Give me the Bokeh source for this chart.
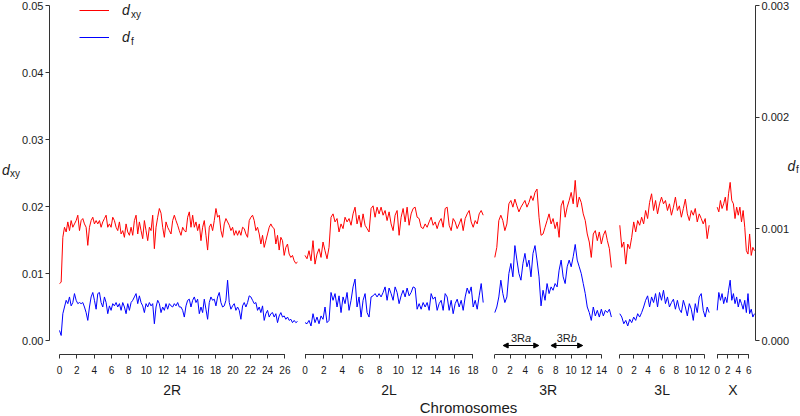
import numpy as np
from bokeh.plotting import figure
from bokeh.models import (Range1d, LinearAxis, FixedTicker, PrintfTickFormatter,
                          Legend, LegendItem, Label, Arrow, NormalHead)
from bokeh.embed import file_html
from bokeh.resources import INLINE

# ---------------- data ----------------
arm_names = ["2R", "2L", "3R", "3L", "X"]

ticks_2R = [0, 2, 4, 6, 8, 10, 12, 14, 16, 18, 20, 22, 24, 26]
ticks_2L = [0, 2, 4, 6, 8, 10, 12, 14, 16, 18]
ticks_3R = [0, 2, 4, 6, 8, 10, 12, 14]
ticks_3L = [0, 2, 4, 6, 8, 10, 12]
ticks_X = [0, 2, 4, 6]

# extent of the windows along each arm (arm axis units)
span_2R = 27.45
span_2L = 19.1
span_3R = 15.3
span_3L = 12.66
span_X = 7.06

# d_xy in units of 0.001
dxy_2R = [8.5, 8.7, 15.4, 16.9, 16.2, 17.7, 16.4, 17.9, 16.9, 17.4, 17.9, 18.7, 16.4, 17.9, 18.2, 17.4,
          16.9, 14.2, 16.9, 17.9, 18.4, 17.4, 17.9, 17.4, 17.9, 16.9, 17.7, 18.2, 18.7, 16.9, 17.4, 16.9,
          18.4, 17.9, 16.9, 16.4, 17.7, 15.9, 16.4, 15.4, 17.4, 16.2, 15.7, 16.9, 15.7, 17.9, 18.7, 15.9,
          17.7, 16.4, 15.2, 17.9, 16.4, 14.9, 16.9, 16.4, 18.7, 13.7, 16.9, 18.4, 19.7, 19.0, 16.9, 15.4,
          17.7, 16.9, 16.4, 15.9, 17.9, 18.7, 17.9, 17.2, 16.4,
          15.7, 16.9, 16.4, 16.2, 18.4, 19.2, 16.9, 18.7, 16.9, 17.7, 16.4, 17.4, 14.9, 16.9, 17.9, 15.7,
          13.5, 16.9, 17.4, 16.4, 17.9, 19.7, 18.4, 18.7, 16.4, 15.4, 17.4, 18.2, 17.7, 17.2, 16.4, 16.9,
          15.7, 16.4, 15.7, 16.4, 15.7, 16.9, 16.7, 15.9, 15.4, 17.9, 18.4, 18.7, 17.9, 16.4, 16.9, 15.9,
          14.4, 15.7, 13.9, 14.9, 15.9, 16.9, 17.4, 16.9, 16.7, 14.4, 15.7, 13.5, 15.4, 14.9, 12.7, 13.9,
          14.4, 12.9, 12.4, 12.7, 11.9, 11.5, 11.7]
dxy_2L = [12.7, 12.2, 13.4, 11.9, 14.9, 11.4, 12.9, 13.7, 12.4, 14.7, 13.4, 12.2, 13.9, 18.4, 18.9, 17.7,
          18.2, 16.2, 17.4, 16.7, 18.4, 17.7, 18.2, 17.2, 18.9, 19.9, 17.4, 18.7, 16.9, 18.9, 17.2, 16.7,
          16.2, 19.7, 20.1, 18.4, 19.9, 18.9, 19.9, 18.7, 19.4, 17.9, 19.2, 17.4, 16.4, 18.7, 19.4, 15.7,
          18.4, 19.7, 17.7, 19.9, 17.2, 18.9, 19.7, 19.9, 18.4, 18.2, 16.9, 16.7, 17.4, 16.9, 17.7, 18.4,
          17.2, 17.7, 16.7, 17.7, 18.2, 16.9, 19.7, 19.9, 17.2, 16.4, 18.2, 17.7, 16.7, 17.4, 18.2, 16.4,
          18.2, 18.9, 19.4, 17.7, 16.9, 17.9, 17.4, 18.9, 19.4, 18.7]
dxy_3R = [12.4, 13.9, 17.9, 18.7, 17.9, 16.4, 17.4, 20.4, 20.9, 19.9, 21.1, 20.1, 19.2, 19.9, 20.4, 20.9,
          19.9, 20.6, 21.6, 20.9, 22.1, 22.6, 18.4, 15.7, 15.9, 16.9, 17.9, 18.9, 17.4, 18.2, 16.7, 17.7,
          15.4, 20.1, 20.9, 18.4, 19.9, 20.9, 22.1, 20.4, 23.9, 19.9, 21.4, 20.6, 18.9, 17.9, 15.9, 14.7,
          12.4, 15.9, 16.4, 14.9, 16.2, 14.4, 15.7, 16.4, 14.9, 13.7, 10.9]
dxy_3L = [17.2, 13.9, 14.7, 11.4, 14.4, 13.7, 15.4, 17.7, 16.2, 17.9, 17.2, 18.4, 17.4, 19.4, 18.2, 20.6,
          21.9, 19.4, 20.9, 18.9, 20.4, 21.4, 20.4, 20.9, 19.4, 20.4, 18.7, 19.9, 21.4, 19.4, 20.1, 18.4,
          19.7, 21.1, 18.9, 17.9, 19.4, 18.7, 19.7, 17.7, 18.9, 18.2, 17.4, 18.2, 15.2, 17.2]
dxy_X = [19.9, 19.2, 20.9, 19.7, 20.4, 21.4, 19.4, 21.9, 23.6, 20.9, 20.4, 18.2, 19.9, 18.7, 19.9, 17.7,
         19.4, 16.9, 13.4, 12.9, 15.9, 12.7, 13.9, 13.4]

# d_f in units of 0.0001
df_2R = [0.9, 0.45, 2.4, 3.0, 3.6, 3.3, 3.9, 3.1, 3.4, 4.2, 3.6, 3.3, 3.4, 3.3, 3.4, 3.0, 2.5, 1.8, 3.0,
         3.9, 4.3, 3.6, 2.8, 4.2, 4.3, 3.4, 3.0, 3.9, 3.4, 2.4, 3.1, 2.7, 3.3, 3.1, 3.4, 3.0, 3.3, 2.7,
         3.4, 3.0, 2.4, 3.3, 2.7, 3.4, 3.6, 3.9, 4.2, 3.3, 4.0, 3.4, 3.1, 2.5, 3.3, 3.0, 3.4, 3.1, 3.3,
         1.5, 3.0, 3.6, 3.3, 2.5, 3.0, 2.7, 3.3, 2.8, 3.3, 3.1, 3.0, 3.3, 3.1, 3.4, 3.0,
         3.0, 2.7, 2.1, 3.1, 3.6, 3.7, 3.0, 3.6, 3.9, 3.4, 3.7, 2.4, 3.0, 2.5, 3.7, 2.8, 1.9, 3.4, 3.9,
         3.6, 3.7, 3.1, 3.9, 4.3, 3.4, 3.0, 3.1, 3.6, 5.4, 3.4, 2.8, 3.1, 3.3, 2.7, 3.0, 2.7, 1.9, 3.1,
         3.4, 3.0, 3.4, 4.0, 3.9, 3.6, 3.3, 3.4, 2.7, 3.0, 2.5, 3.1, 1.8, 2.4, 2.7, 2.1, 2.4, 2.5, 2.1,
         2.4, 1.6, 2.2, 2.5, 2.1, 2.2, 1.9, 2.1, 1.8, 1.9, 1.6, 1.8, 1.6, 1.7]
df_2L = [1.6, 1.5, 1.8, 1.3, 2.4, 1.6, 2.1, 1.5, 2.2, 1.9, 3.0, 1.6, 1.8, 4.3, 3.6, 4.2, 3.0, 4.0, 2.5,
         3.9, 3.3, 4.3, 2.7, 3.6, 4.8, 5.5, 3.0, 3.9, 2.1, 3.6, 4.2, 2.5, 2.1, 3.9, 4.0, 4.2, 3.9, 4.2,
         3.9, 4.3, 4.8, 3.6, 4.7, 4.2, 3.6, 4.8, 4.3, 3.3, 4.0, 4.5, 3.9, 4.7, 4.0, 4.3, 4.8, 4.7, 2.8,
         3.3, 2.8, 3.4, 3.0, 3.4, 2.7, 4.2, 3.7, 3.9, 2.7, 3.3, 3.6, 2.7, 4.2, 3.9, 2.7, 3.6, 2.4, 3.3,
         3.7, 3.0, 3.6, 2.7, 3.9, 4.7, 4.2, 4.8, 3.0, 3.6, 2.8, 4.0, 5.1, 3.4]
df_3R = [2.5, 3.0, 3.9, 5.4, 4.2, 3.4, 3.9, 6.0, 6.9, 5.7, 8.5, 7.2, 6.0, 5.4, 6.9, 7.8, 6.6, 7.2, 5.7,
         7.8, 8.5, 7.2, 5.7, 3.1, 4.5, 3.6, 5.1, 4.2, 4.8, 4.5, 5.1, 4.8, 6.3, 7.2, 5.7, 5.1, 6.6, 7.2,
         6.6, 7.5, 8.6, 7.2, 6.6, 6.0, 5.1, 4.2, 3.0, 2.5, 1.8, 3.0, 2.2, 2.7, 2.1, 2.8, 2.2, 2.7, 2.5,
         2.8, 2.1]
df_3L = [2.4, 2.1, 1.5, 1.8, 1.3, 1.9, 1.6, 2.1, 1.8, 2.4, 2.1, 2.5, 3.0, 3.6, 4.0, 3.0, 3.9, 3.4, 4.2,
         3.0, 4.3, 3.6, 4.5, 3.3, 3.9, 3.0, 3.4, 3.7, 2.8, 3.6, 2.8, 2.5, 3.6, 3.0, 2.2, 3.3, 2.8, 1.8,
         3.3, 2.5, 3.9, 4.2, 2.7, 2.1, 3.0, 2.5]
df_X = [2.7, 4.3, 3.6, 4.2, 3.3, 3.9, 3.4, 4.5, 5.4, 3.6, 4.2, 3.3, 3.9, 3.0, 3.7, 3.3, 2.8, 3.6, 2.5,
        4.2, 2.4, 2.8, 2.1, 2.4]

DXY_UNIT = 1e-3
DF_UNIT = 1e-4

# inversions on 3R (arm units)
inv_names = ["a", "b"]
inv_start = [1.1, 7.37]
inv_end = [5.77, 11.53]

dxy_ticks = [0.0, 0.01, 0.02, 0.03, 0.04, 0.05]
df_ticks = [0.0, 0.001, 0.002, 0.003]

# ---------------- layout (x coordinate = page pixel) ----------------
ticks = {"2R": ticks_2R, "2L": ticks_2L, "3R": ticks_3R, "3L": ticks_3L, "X": ticks_X}
spans = {"2R": span_2R, "2L": span_2L, "3R": span_3R, "3L": span_3L, "X": span_X}
dxy = {"2R": dxy_2R, "2L": dxy_2L, "3R": dxy_3R, "3L": dxy_3L, "X": dxy_X}
dfv = {"2R": df_2R, "2L": df_2L, "3R": df_3R, "3L": df_3L, "X": df_X}

ARM_ORIGIN = {"2R": 59.0, "2L": 304.5, "3R": 494.3, "3L": 619.3, "X": 716.7}
ARM_SCALE = {"2R": 8.67, "2L": 9.33, "3R": 7.62, "3L": 7.06, "X": 5.28}

def gx(arm, pos):
    return ARM_ORIGIN[arm] + np.asarray(pos, dtype=float) * ARM_SCALE[arm]

W, H = 800, 416
X_LEFT, X_RIGHT = 49, 755            # page x of left / right axis
Y_TOP, Y_ZERO, Y_AXIS = 5, 340, 354  # page y of top tick, zero and the x axis
DXY_MAX, DF_MAX = 0.05, 0.003
px_dxy = DXY_MAX / (Y_ZERO - Y_TOP)
px_df = DF_MAX / (Y_ZERO - Y_TOP)

def ydxy(page_y):
    return (Y_ZERO - page_y) * px_dxy

def ydf(page_y):
    return (Y_ZERO - page_y) * px_df

FONT = "Liberation Sans"
AX = "#333333"
TXT = "#1a1a1a"

p = figure(width=W, height=H, output_backend="svg", toolbar_location=None,
           x_range=Range1d(0, W), y_range=Range1d(ydxy(H), ydxy(0)),
           x_axis_type=None, y_axis_type=None,
           min_border_left=0, min_border_right=0, min_border_top=0, min_border_bottom=0)
p.outline_line_color = None
p.background_fill_color = "white"
p.border_fill_color = "white"
p.extra_y_ranges = {"df": Range1d(ydf(H), ydf(0))}

def style_axis(ax, size="11px"):
    ax.axis_line_color = AX
    ax.major_tick_line_color = AX
    ax.minor_tick_line_color = None
    ax.major_tick_in = 0
    ax.major_label_text_font = FONT
    ax.major_label_text_font_size = size
    ax.major_label_text_color = TXT

ax_l = LinearAxis(ticker=FixedTicker(ticks=dxy_ticks), formatter=PrintfTickFormatter(format="%.2f"),
                  bounds=(0, DXY_MAX), fixed_location=X_LEFT)
style_axis(ax_l)
ax_l.major_tick_out = 4
ax_l.major_label_standoff = 2
p.add_layout(ax_l, "left")

ax_r = LinearAxis(y_range_name="df", ticker=FixedTicker(ticks=df_ticks),
                  formatter=PrintfTickFormatter(format="%.3f"), bounds=(0, DF_MAX), fixed_location=X_RIGHT)
style_axis(ax_r)
ax_r.major_tick_out = 4
ax_r.major_label_standoff = 2
p.add_layout(ax_r, "right")

# position ticks of every arm
tick_pos, tick_lab = [], {}
for arm in arm_names:
    for t in ticks[arm]:
        g = round(float(gx(arm, t)), 3)
        tick_pos.append(g)
        tick_lab[g] = str(t)
ax_b = LinearAxis(ticker=FixedTicker(ticks=tick_pos), major_label_overrides=tick_lab,
                  fixed_location=ydxy(Y_AXIS))
style_axis(ax_b, "10px")
ax_b.axis_line_color = None
ax_b.major_tick_out = 4
ax_b.major_label_standoff = 7
p.add_layout(ax_b, "below")

# arm names
mid_pos, mid_lab = [], {}
for arm in arm_names:
    g = round(float(gx(arm, (ticks[arm][0] + ticks[arm][-1]) / 2)), 3)
    mid_pos.append(g)
    mid_lab[g] = arm
ax_n = LinearAxis(ticker=FixedTicker(ticks=mid_pos), major_label_overrides=mid_lab,
                  fixed_location=ydxy(Y_AXIS))
style_axis(ax_n, "14px")
ax_n.axis_line_color = None
ax_n.major_tick_line_color = None
ax_n.major_tick_out = 0
ax_n.major_label_standoff = 27
p.add_layout(ax_n, "below")

# axis line segments for each arm (span of its ticks)
ybase = ydxy(Y_AXIS)
p.segment(x0=[float(gx(a, ticks[a][0])) for a in arm_names], y0=[ybase] * 5,
          x1=[float(gx(a, ticks[a][-1])) for a in arm_names], y1=[ybase] * 5,
          line_color=AX, line_width=1)

red_r, blue_r = None, None
for arm in arm_names:
    v = np.asarray(dxy[arm]) * DXY_UNIT
    xs = gx(arm, np.linspace(0, spans[arm], len(v)))
    r = p.line(xs, v, line_color="red", line_width=1)
    red_r = red_r or r
    w = np.asarray(dfv[arm]) * DF_UNIT
    xs2 = gx(arm, np.linspace(0, spans[arm], len(w)))
    b = p.line(xs2, w, line_color="blue", line_width=1, y_range_name="df")
    blue_r = blue_r or b

# legend
legend = Legend(items=[LegendItem(label="d", renderers=[red_r]), LegendItem(label="d", renderers=[blue_r])],
                location=(79, 370), glyph_width=30, glyph_height=18, label_height=18, label_standoff=13,
                spacing=9, padding=0, margin=0, border_line_color=None, background_fill_alpha=0,
                label_text_font=FONT, label_text_font_style="italic", label_text_font_size="14px",
                label_text_color=TXT)
p.add_layout(legend)

def lab(x, y, text, size="10px", style="normal", align="left", yr="default", baseline="middle"):
    p.add_layout(Label(x=x, y=y, text=text, text_font=FONT, text_font_size=size, text_font_style=style,
                       text_align=align, text_baseline=baseline, text_color=TXT, y_range_name=yr))

lab(130.5, ydxy(13.5), "xy")
lab(130.5, ydxy(40.5), "f")

# axis titles
lab(1.5, ydxy(169), "d", size="14px", style="italic")
lab(9.5, ydxy(173), "xy")
lab(787, ydf(165), "d", size="14px", style="italic", yr="df")
lab(795.5, ydf(169), "f", yr="df")

# chromosome axis title
lab(468, ydxy(407), "Chromosomes", size="15px", align="center")

# inversion arrows on 3R
for nm, s, e in zip(inv_names, inv_start, inv_end):
    xs_, xe_ = float(gx("3R", s)), float(gx("3R", e))
    p.add_layout(Arrow(start=NormalHead(size=5, fill_color="black", line_color="black"),
                       end=NormalHead(size=5, fill_color="black", line_color="black"),
                       x_start=xs_, x_end=xe_, y_start=ydxy(345), y_end=ydxy(345),
                       line_color="black", line_width=1))
    mid = (xs_ + xe_) / 2
    lab(mid + 4, ydxy(337), "3R", size="11px", align="right")
    lab(mid + 4, ydxy(337), nm, size="11px", style="italic", align="left")

open("out.html", "w").write(file_html(p, INLINE))
